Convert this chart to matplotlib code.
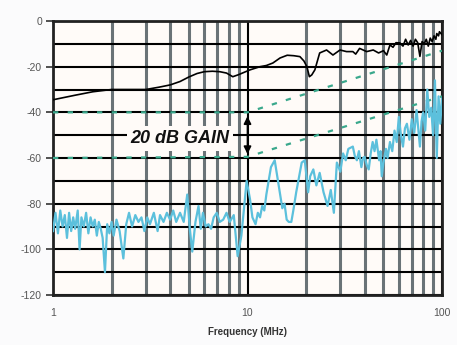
import matplotlib
matplotlib.use("Agg")
import matplotlib.pyplot as plt
import matplotlib.ticker as ticker

plt.rcParams['font.family'] = ['Liberation Sans', 'DejaVu Sans']

# black trace (upper, amplified)
black_f = [1.0, 1.3, 1.6, 2.0, 2.5, 3.0, 3.5, 4.0, 4.5, 5.0, 5.5, 6.0, 6.6, 7.2, 7.8,
           8.4, 9.0, 10.3, 11.6, 12.5, 13.5, 14.7, 16.0, 17.3, 18.6, 19.5, 20.2, 20.8,
           21.4, 22.2, 23.5, 25.5, 27.5, 29.9, 32.3, 34.8, 36.0, 37.7, 41.0, 44.3, 47.2,
           50.0, 52.0, 54.0, 56.0, 58.0, 60.7, 63.0, 65.0, 67.0, 69.0, 71.0, 73.0, 75.0,
           77.0, 79.0, 81.0, 83.0, 85.0, 87.0, 89.0, 91.0, 93.0, 94.0, 96.0, 97.0, 100.0]
black_db = [-34.5, -32.5, -31, -30, -30, -30, -29, -28, -26.5, -24.5, -23, -22.2, -22, -22.2, -22.8,
            -24.4, -23.5, -21.4, -20, -19.5, -18.4, -16.2, -15, -15.2, -15.6, -17.5, -20, -24.4,
            -23.6, -21.4, -14, -12.7, -14.9, -12.7, -13.4, -13.4, -14.5, -12, -13.4, -12.7, -14,
            -13, -14.9, -10.5, -11.5, -9.5, -9.6, -11, -8, -10.5, -8.5, -11, -8, -9.5,
            -15.5, -9, -10, -8, -11, -7.5, -9, -6.5, -8, -5.5, -6.5, -4.7, -6]

# cyan trace (lower, original)
cyan_f = [1.00, 1.03, 1.06, 1.09, 1.12, 1.15, 1.18, 1.21, 1.24, 1.27, 1.30, 1.34, 1.37, 1.40,
          1.44, 1.48, 1.52, 1.56, 1.60, 1.64, 1.68, 1.72, 1.76, 1.80, 1.85, 1.90, 1.95, 2.00,
          2.05, 2.12, 2.20, 2.30, 2.38, 2.46, 2.55, 2.65, 2.75, 2.85, 2.95, 3.05, 3.15, 3.30,
          3.45, 3.55, 3.70, 3.85, 4.00, 4.15, 4.30, 4.50, 4.70, 4.90, 5.05, 5.20, 5.40, 5.60,
          5.75, 5.90, 6.10, 6.30, 6.50, 6.70, 6.95, 7.20, 7.50, 7.80, 8.10, 8.50, 8.90, 9.30,
          9.90, 10.3, 10.6, 11.0, 11.3, 11.6, 11.9, 12.2, 12.5, 13.2, 13.8, 14.4, 15.1, 15.5,
          15.9, 16.3, 16.8, 17.2, 17.8, 19.0, 19.7, 20.5, 21.0, 21.8, 22.6, 23.5, 24.6, 25.8,
          26.8, 27.8, 28.8, 30.0, 31.0, 32.0, 33.0, 34.8, 35.6, 36.5, 37.4, 38.5, 39.3, 40.0,
          41.0, 42.0, 43.0, 44.0, 45.0, 46.0, 47.5, 48.3, 49.0, 50.0, 51.5, 52.5, 54.0, 55.5,
          57.0, 58.5, 60.0, 61.5, 63.0, 64.5, 66.0, 68.0, 70.0, 72.0, 74.0, 75.5, 77.0, 78.5,
          80.0, 82.0, 84.0, 86.0, 88.0, 90.0, 92.0, 94.0, 96.0, 98.0, 100.0]
cyan_db = [-92, -84, -93, -83, -90, -85, -95, -84, -92, -86, -91, -83, -100, -86,
           -90, -84, -93, -86, -90, -87, -94, -88, -91, -95, -110, -89, -93, -88,
           -94, -87, -92, -104, -89, -84, -90, -85, -88, -86, -92, -86, -89, -84,
           -92, -85, -88, -84, -87, -83, -88, -84, -88, -76, -91, -101, -88, -81,
           -91, -84, -90, -89, -91, -86, -84, -88, -87, -84, -88, -85, -103, -94,
           -70, -78, -86, -89, -84, -86, -81, -83, -76, -64, -61, -71, -82, -80,
           -87, -88, -88, -83, -75, -62, -61, -75, -68, -65, -72, -66.5, -75, -81,
           -74, -84, -62, -66, -58, -61, -56, -55, -59, -61, -57, -64, -60, -59.5,
           -63, -65, -58, -53, -57, -52, -61, -57, -68, -62, -56, -60, -53, -57,
           -48, -53, -42, -50, -55, -47, -45, -52, -43, -49, -39, -47, -55, -44,
           -40, -48, -30, -42, -38, -50, -26, -60, -33, -45, -34]

# 20 dB gain reference lines
upper_f = [1, 10, 100]
upper_db = [-40, -40, -13]
lower_f = [1, 10, 100]
lower_db = [-60, -59.5, -33]

yticks = [0, -20, -40, -60, -80, -100, -120]
ytick_labels = ['0', '-20', '-40', '-60', '-80', '-100', '-120']

fig = plt.figure(figsize=(4.57, 3.45), dpi=100)
fig.patch.set_facecolor('#fbfbfc')
ax = fig.add_axes([53 / 457, 1 - 295 / 345, (442 - 53) / 457, (295 - 21) / 345])
ax.set_facecolor('#fffbf8')

ax.set_xscale('log')
ax.set_xlim(1, 100)
ax.set_ylim(-120, 0)

ax.set_yticks(yticks)
ax.set_yticklabels(ytick_labels)
ax.yaxis.set_minor_locator(ticker.MultipleLocator(10))
ax.xaxis.set_major_locator(ticker.FixedLocator([1, 10, 100]))
ax.xaxis.set_major_formatter(ticker.FixedFormatter(['1', '10', '100']))
ax.xaxis.set_minor_locator(ticker.LogLocator(base=10, subs=range(2, 10)))
ax.xaxis.set_minor_formatter(ticker.NullFormatter())

ax.tick_params(axis='x', which='both', length=0, labelsize=7.5, colors='#555555', pad=9)
ax.tick_params(axis='y', which='major', length=5, width=1.2, color='#333333',
               labelsize=7.5, labelcolor='#555555', pad=3)
ax.tick_params(axis='y', which='minor', length=0)

ax.set_axisbelow(True)
ax.grid(True, axis='y', which='both', color='black', lw=1.5)
ax.grid(True, axis='x', which='major', color='black', lw=1.5)
ax.grid(True, axis='x', which='minor', color='#6a7377', lw=2.2)
for s in ax.spines.values():
    s.set_color('#222222')
    s.set_linewidth(2)

ax.plot(upper_f, upper_db, color='#3aa88c', lw=1.6, ls=(0, (2.4, 4.2)), zorder=3)
ax.plot(lower_f, lower_db, color='#3aa88c', lw=1.6, ls=(0, (2.4, 4.2)), zorder=3)
ax.plot(black_f, black_db, color='black', lw=1.2, zorder=4)
ax.plot(cyan_f, cyan_db, color='#5cc0dc', lw=1.6, zorder=4)

ax.text(4.5, -51.5, '20 dB GAIN', fontsize=13, fontweight='bold', fontstyle='italic',
        color='#111111', ha='center', va='center', zorder=5,
        bbox=dict(boxstyle='square,pad=0.2', facecolor='#fffbf8', edgecolor='none'))
ax.annotate('', xy=(10, -40.5), xytext=(10, -59.5),
            arrowprops=dict(arrowstyle='<|-|>', color='black', lw=1.2, mutation_scale=11),
            zorder=6)

ax.set_xlabel('Frequency (MHz)', fontsize=7, fontweight='bold', color='#333333', labelpad=7)

fig.savefig('out.png', dpi=100, facecolor=fig.get_facecolor())
